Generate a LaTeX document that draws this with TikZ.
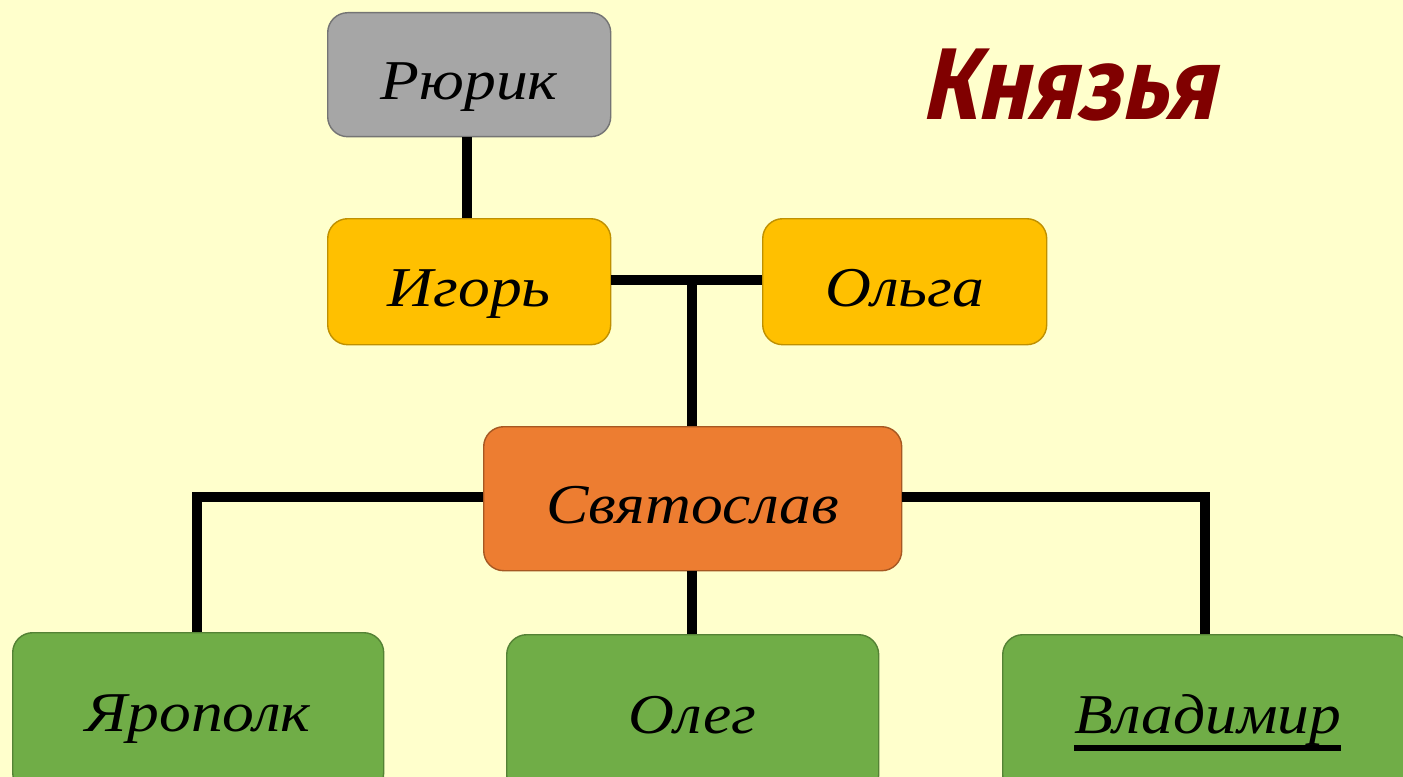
\documentclass[tikz,border=0pt]{standalone}
\usepackage{fontspec}
\setmainfont{Liberation Serif}[FakeStretch=1.13]
\newfontfamily\titlefont{Fira Sans Bold}[FakeStretch=0.86,FakeSlant=0.22]
\begin{document}
\begin{tikzpicture}[x=0.02cm,y=-0.02cm,
  boxstyle/.style={rounded corners=0.4cm, line width=0.8pt, inner sep=0pt, anchor=north west,
    text height=21pt, text depth=0pt,
    font=\fontsize{32}{38}\selectfont\itshape},
  lowtext/.style={text height=28pt},
  linkstyle/.style={line width=0.2cm, black}]
\useasboundingbox (0,0) rectangle (1403,777);
\fill[fill={rgb,255:red,255;green,255;blue,204}] (0,0) rectangle (1403,777);
\definecolor{grayb}{RGB}{166,166,166}
\definecolor{yellowb}{RGB}{255,192,0}
\definecolor{orangeb}{RGB}{237,125,49}
\definecolor{greenb}{RGB}{112,173,71}
\definecolor{titlered}{RGB}{128,0,0}
% boxes
\node[boxstyle, lowtext, draw=grayb!70!black, fill=grayb, minimum width=283*0.02cm, minimum height=124*0.02cm] (rur) at (327,12) {Рюрик};
\node[boxstyle, lowtext, draw=yellowb!75!black, fill=yellowb, minimum width=283*0.02cm, minimum height=126*0.02cm] (igor) at (327,218) {Игорь};
\node[boxstyle, lowtext, draw=yellowb!75!black, fill=yellowb, minimum width=284*0.02cm, minimum height=126*0.02cm] (olga) at (762,218) {Ольга};
\node[boxstyle, lowtext, draw=orangeb!70!black, fill=orangeb, minimum width=418*0.02cm, minimum height=144*0.02cm] (svy) at (483,426) {Святослав};
\node[boxstyle, draw=greenb!75!black, fill=greenb, minimum width=371*0.02cm, minimum height=160*0.02cm] (yar) at (12,632) {Ярополк};
\node[boxstyle, draw=greenb!75!black, fill=greenb, minimum width=372*0.02cm, minimum height=160*0.02cm] (oleg) at (506,634) {Олег};
\node[boxstyle, draw=greenb!75!black, fill=greenb, minimum width=410*0.02cm, minimum height=160*0.02cm] (vlad) at (1002,634)
  {\setbox0\hbox{Владимир}\rlap{\raisebox{-10pt}{\rule{\wd0}{3pt}}}\box0};
% title
\node[font=\titlefont\fontsize{58}{64}\selectfont, text=titlered, anchor=base, inner sep=0pt] (title) at (1068,120) {Князья};
% coordinates
\coordinate (j1) at (692,280);
\coordinate (lc) at (197,497);
\coordinate (rc) at (1205,497);
% connectors
\draw[linkstyle] (rur.south -| 467,0) -- (igor.north -| 467,0);
\draw[linkstyle] (igor.east |- j1) -- (olga.west |- j1);
\draw[linkstyle] (j1) -- (svy.north -| j1);
\draw[linkstyle] (svy.west |- lc) -- (lc) -- (yar.north -| lc);
\draw[linkstyle] (svy.south -| j1) -- (oleg.north -| j1);
\draw[linkstyle] (svy.east |- rc) -- (rc) -- (vlad.north -| rc);
\end{tikzpicture}
\end{document}
